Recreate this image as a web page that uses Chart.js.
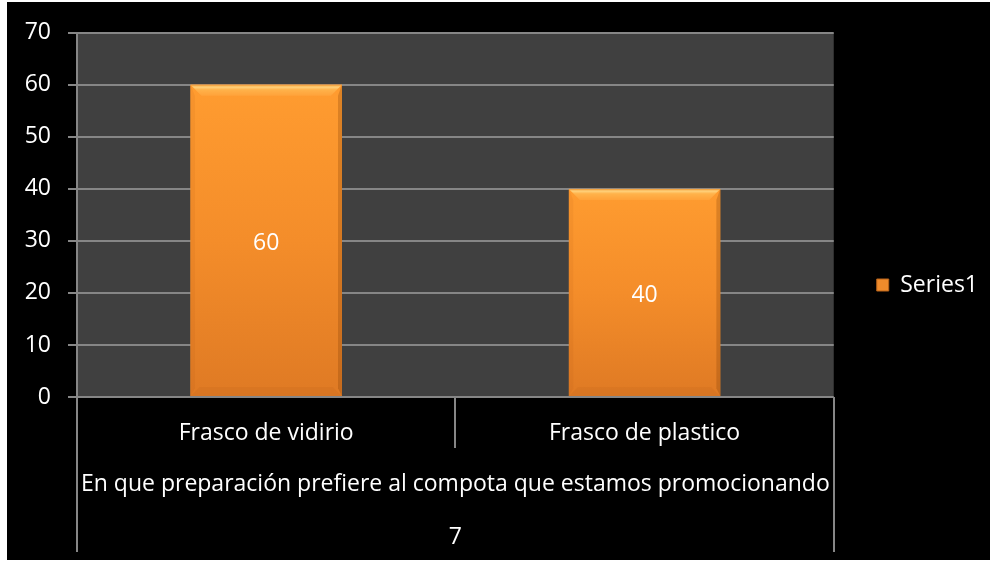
<!DOCTYPE html>
<html>
<head>
<meta charset="utf-8">
<script src="https://cdn.jsdelivr.net/npm/chart.js@4"></script>
<style>
  body { margin: 0; background: #fff; }
  #marco { position: absolute; left: 7px; top: 2px; width: 983px; height: 558px; background: #000; }
</style>
</head>
<body>
<div id="marco"><canvas id="grafico"></canvas></div>
<script>
const categorias = ['Frasco de vidirio', 'Frasco de plastico'];
const grupo = ['En que preparación prefiere al compota que estamos promocionando'];
const pregunta = ['7'];
const serie = 'Series1';
const valores = [60, 40];
const ticksY = [0, 10, 20, 30, 40, 50, 60, 70];

const fuente = '"Open Sans", "Noto Sans", sans-serif';
const tam = 23;
const gris = '#868686';

// fondo gris del area de trazado
const fondo = {
  id: 'fondo',
  beforeDraw(chart) {
    const a = chart.chartArea;
    const c = chart.ctx;
    c.save();
    c.fillStyle = '#404040';
    c.fillRect(a.left, a.top, a.right - a.left, a.bottom - a.top);
    c.restore();
  }
};

// barras con degradado y bisel, y el valor en el centro
const biselado = {
  id: 'biselado',
  afterDatasetsDraw(chart) {
    const c = chart.ctx;
    const meta = chart.getDatasetMeta(0);
    meta.data.forEach((el, i) => {
      const p = el.getProps(['x', 'y', 'base', 'width'], true);
      const l = p.x - p.width / 2, r = p.x + p.width / 2;
      const t = p.y, b = p.base;
      const bv = 11;
      c.save();
      const g = c.createLinearGradient(0, t, 0, b);
      g.addColorStop(0, '#ff9c30');
      g.addColorStop(0.5, '#f48d2a');
      g.addColorStop(1, '#df7a24');
      c.fillStyle = g;
      c.fillRect(l, t, r - l, b - t);

      // bisel superior
      const gt = c.createLinearGradient(0, t, 0, t + bv);
      gt.addColorStop(0, '#f0952e');
      gt.addColorStop(0.2, '#ffd27c');
      gt.addColorStop(0.45, '#ffb24a');
      gt.addColorStop(1, '#ffa23a');
      c.fillStyle = gt;
      c.beginPath();
      c.moveTo(l, t); c.lineTo(r, t); c.lineTo(r - bv, t + bv); c.lineTo(l + bv, t + bv);
      c.closePath(); c.fill();

      // lados
      c.fillStyle = 'rgba(150,70,10,0.08)';
      c.beginPath();
      c.moveTo(l, t); c.lineTo(l + bv * 0.4, t + bv); c.lineTo(l + bv * 0.4, b - bv * 0.7); c.lineTo(l, b);
      c.closePath(); c.fill();
      c.fillStyle = 'rgba(120,55,5,0.25)';
      c.beginPath();
      c.moveTo(r, t); c.lineTo(r - bv * 0.35, t + bv); c.lineTo(r - bv * 0.35, b - bv * 0.7); c.lineTo(r, b);
      c.closePath(); c.fill();

      // bisel inferior
      c.fillStyle = 'rgba(140,60,10,0.08)';
      c.beginPath();
      c.moveTo(l, b); c.lineTo(r, b); c.lineTo(r - bv * 0.8, b - bv * 0.8); c.lineTo(l + bv * 0.8, b - bv * 0.8);
      c.closePath(); c.fill();

      // valor
      c.fillStyle = '#fff';
      c.font = tam + 'px ' + fuente;
      c.textAlign = 'center';
      c.textBaseline = 'middle';
      c.fillText(String(valores[i]), p.x, (t + b) / 2 + 3);
      c.restore();
    });
  }
};

function ejeCategoria(etiquetas, alto, peso, padding) {
  return {
    type: 'category',
    position: 'bottom',
    labels: etiquetas,
    weight: peso,
    offset: true,
    border: { display: false },
    grid: {
      offset: true,
      drawOnChartArea: false,
      drawTicks: true,
      tickLength: alto,
      color: gris,
      lineWidth: 2
    },
    ticks: {
      color: '#fff',
      font: { family: fuente, size: tam },
      padding: padding,
      maxRotation: 0,
      autoSkip: false
    },
    afterFit(scale) { scale.height = alto; }
  };
}

const ctx = document.getElementById('grafico').getContext('2d');
new Chart(ctx, {
  type: 'bar',
  data: {
    labels: categorias,
    datasets: [{
      label: serie,
      data: valores,
      backgroundColor: '#f39030',
      borderWidth: 0,
      categoryPercentage: 1,
      barPercentage: 0.4
    }]
  },
  options: {
    responsive: true,
    maintainAspectRatio: false,
    animation: false,
    layout: { padding: { top: 16, right: 2, bottom: 8, left: 0 } },
    scales: {
      x: ejeCategoria(categorias, 51, 0, -28),
      grupo: ejeCategoria(grupo, 52, 1, -29),
      pregunta: ejeCategoria(pregunta, 52, 2, -28),
      y: {
        min: 0,
        max: 70,
        afterBuildTicks(scale) { scale.ticks = ticksY.map(v => ({ value: v })); },
        afterFit(scale) { scale.width = 70; },
        border: { color: gris, width: 2 },
        grid: { color: gris, lineWidth: 2, tickLength: 9 },
        ticks: {
          color: '#fff',
          font: { family: fuente, size: tam },
          padding: 17
        }
      }
    },
    plugins: {
      // bloque vacio sobre el area de trazado, solo aparta el grafico del borde
      title: {
        display: true,
        text: '',
        fullSize: false,
        font: { size: 1, lineHeight: 1 },
        padding: { top: 13, bottom: 0 }
      },
      legend: {
        position: 'right',
        maxWidth: 156,
        labels: {
          color: '#fff',
          font: { family: fuente, size: tam },
          boxWidth: 12,
          boxHeight: 12,
          padding: 43,
          generateLabels() {
            return [{ text: serie, fillStyle: '#ef8b2b', strokeStyle: '#b8621a', lineWidth: 1, fontColor: '#fff' }];
          }
        }
      },
      tooltip: { enabled: false }
    }
  },
  plugins: [fondo, biselado]
});
</script>
</body>
</html>
